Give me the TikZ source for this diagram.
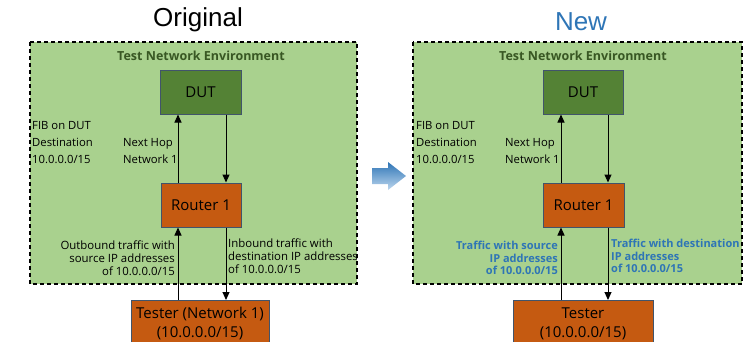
\documentclass[tikz,border=0pt]{standalone}
\usepackage{fontspec}
\setmainfont{Open Sans}
\newfontfamily\titlefont{Liberation Sans}
\usepackage{xcolor}
\usepackage{tikz}
\usetikzlibrary{arrows.meta}
\definecolor{envgreen}{HTML}{A9D18E}
\definecolor{dutgreen}{HTML}{548235}
\definecolor{darkgreen}{HTML}{385723}
\definecolor{rust}{HTML}{C55A11}
\definecolor{slate}{HTML}{41546B}
\definecolor{newblue}{HTML}{2E75B6}
\definecolor{paleblue}{HTML}{BDD7EE}

\begin{document}
\begin{tikzpicture}[x=1pt,y=-1pt,
    env/.style={fill=envgreen,draw=black,line width=1.1pt,dash pattern=on 4pt off 3pt},
    envtitle/.style={font=\bfseries\fontsize{12.5}{14}\selectfont,text=darkgreen},
    box/.style={draw=slate,line width=1pt,minimum width=80pt,minimum height=44pt,inner sep=0pt,align=center,font=\fontsize{15}{19}\selectfont},
    note/.style={font=\fontsize{11.3}{17}\selectfont,inner sep=0pt,align=left,anchor=west},
    traffic/.style={font=\fontsize{11.4}{12.8}\selectfont,inner sep=0pt},
    newtraffic/.style={traffic,font=\bfseries\fontsize{11}{12.8}\selectfont,text=newblue},
    flow/.style={-{Triangle[length=8pt,width=7pt]},line width=1pt}]
    \useasboundingbox (0,0) rectangle (751,341);
    \clip (0,0) rectangle (751,341);

    % original
    \node[font=\titlefont\fontsize{26}{30}\selectfont] (titleA) at (198,20) {Original};
    \draw[env] (30,42) rectangle (357,284);
    \node[envtitle] (envA) at (201,56) {Test Network Environment};
    \node[box,fill=dutgreen,minimum width=81pt] (dutA) at (200.5,92) {DUT};
    \node[box,fill=rust] (routerA) at (201,205) {Router 1};
    \node[box,fill=rust,minimum width=138pt,minimum height=46pt,anchor=north] (testerA) at (200,300) {Tester (Network 1)\\(10.0.0.0/15)};
    \node[note] (fibA) at (32,143) {FIB on DUT\\Destination\\10.0.0.0/15};
    \node[note] (hopA) at (123,151.5) {Next Hop\\Network 1};
    \node[traffic,anchor=east,align=right] (outA) at (175,258) {Outbound traffic with\\source IP addresses\\of 10.0.0.0/15};
    \node[traffic,anchor=west,align=left] (inA) at (228,256) {Inbound traffic with\\destination IP addresses\\of 10.0.0.0/15};

    \coordinate (upA) at (178,0);
    \coordinate (downA) at (226,0);
    \draw[flow] (testerA.north -| upA) -- (routerA.south -| upA);
    \draw[flow] (routerA.north -| upA) -- (dutA.south -| upA);
    \draw[flow] (dutA.south -| downA) -- (routerA.north -| downA);
    \draw[flow] (routerA.south -| downA) -- (testerA.north -| downA);

    % from old to new
    \shade[top color=newblue,bottom color=paleblue] (372,168) -- (388,168) -- (388,162) -- (406,176) -- (388,190) -- (388,184) -- (372,184) -- cycle;

    % new
    \begin{scope}[xshift=383pt]
    \node[font=\titlefont\fontsize{26}{30}\selectfont,text=newblue] (titleB) at (198,22) {New};
    \draw[env] (30,42) rectangle (359,284);
    \node[envtitle] (envB) at (200,56) {Test Network Environment};
    \node[box,fill=dutgreen] (dutB) at (200,92) {DUT};
    \node[box,fill=rust,minimum width=81pt] (routerB) at (200.5,205) {Router 1};
    \node[box,fill=rust,minimum width=140pt,minimum height=46pt,anchor=north] (testerB) at (200,300) {Tester\\(10.0.0.0/15)};
    \node[note] (fibB) at (33,143) {FIB on DUT\\Destination\\10.0.0.0/15};
    \node[note] (hopB) at (122,151.5) {Next Hop\\Network 1};
    \node[newtraffic,anchor=east,align=right] (srcB) at (175,258) {Traffic with source\\IP addresses\\of 10.0.0.0/15};
    \node[newtraffic,anchor=west,align=left] (dstB) at (228,256) {Traffic with destination\\IP addresses\\of 10.0.0.0/15};

    \coordinate (upB) at (178,0);
    \coordinate (downB) at (225,0);
    \draw[flow] (testerB.north -| upB) -- (routerB.south -| upB);
    \draw[flow] (routerB.north -| upB) -- (dutB.south -| upB);
    \draw[flow] (dutB.south -| downB) -- (routerB.north -| downB);
    \draw[flow] (routerB.south -| downB) -- (testerB.north -| downB);
    \end{scope}
\end{tikzpicture}
\end{document}
